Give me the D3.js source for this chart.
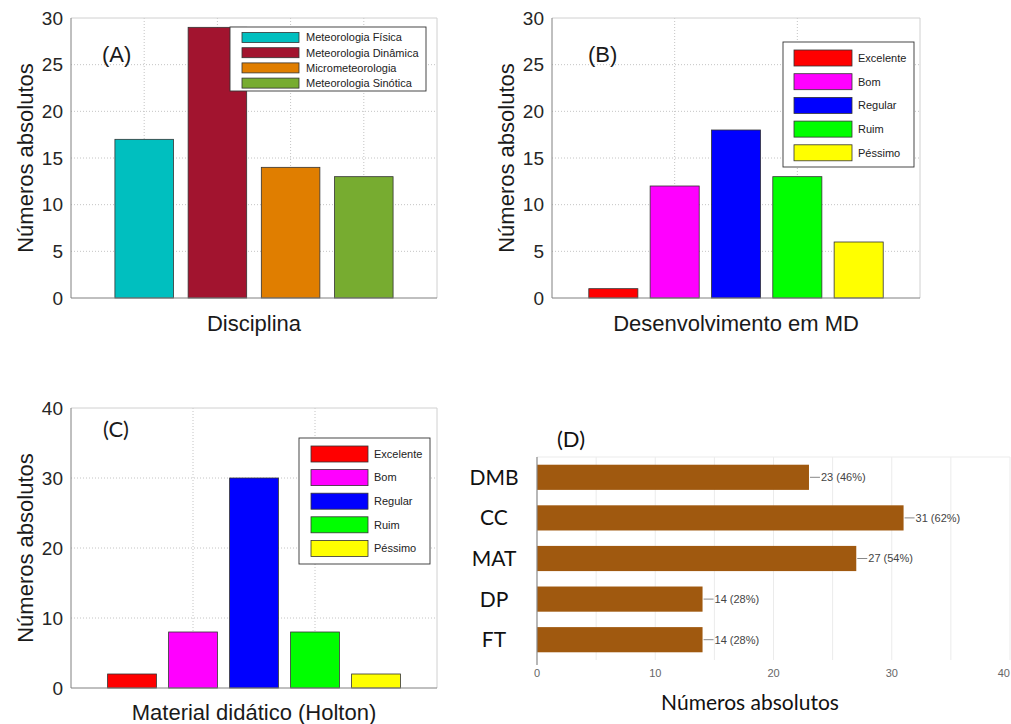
<!DOCTYPE html>
<html>
<head>
<meta charset="utf-8">
<script src="https://cdn.jsdelivr.net/npm/d3@7"></script>
<style>
  body { margin: 0; background: #fff; }
  svg { display: block; }
</style>
</head>
<body>
<div id="plot"></div>
<script>
// data
var disciplinas = ["Meteorologia Física", "Meteorologia Dinâmica", "Micrometeorologia", "Meteorologia Sinótica"];
var disciplinaValues = [17, 29, 14, 13];

var conceitos = ["Excelente", "Bom", "Regular", "Ruim", "Péssimo"];
var desenvolvimentoValues = [1, 12, 18, 13, 6];
var holtonValues = [2, 8, 30, 8, 2];

var habilidades = ["DMB", "CC", "MAT", "DP", "FT"];
var habilidadeValues = [23, 31, 27, 14, 14];
var habilidadePct = [46, 62, 54, 28, 28];

var ticks30 = [0, 5, 10, 15, 20, 25, 30];
var ticks40 = [0, 10, 20, 30, 40];
var ticksD = [0, 10, 20, 30, 40];

// colours
var disciplinaColors = ["#00bfbf", "#a2142f", "#e07e00", "#77ac30"];
var conceitoColors = ["#ff0000", "#ff00ff", "#0000ff", "#00ff00", "#ffff00"];
var brown = "#a0590f";

var W = 1011, H = 724;
var svg = d3.select("#plot").append("svg")
    .attr("width", W)
    .attr("height", H)
    .style("font-family", "'Liberation Sans', Arial, sans-serif");

// MATLAB style bar panel
function barPanel(cfg) {
    var n = cfg.values.length;
    var x = d3.scaleLinear().domain([0, n + 1]).range([cfg.left, cfg.right]);
    var y = d3.scaleLinear().domain([0, cfg.yMax]).range([cfg.bottom, cfg.top]);
    var g = svg.append("g");

    // dotted grid
    g.selectAll(".hgrid")
	.data(cfg.yTicks.filter(function(d) { return d > 0 && d < cfg.yMax; }))
	.join("line")
	.attr("x1", cfg.left).attr("x2", cfg.right)
	.attr("y1", function(d) { return y(d); }).attr("y2", function(d) { return y(d); })
	.style("stroke", "#c4c4c4").style("stroke-dasharray", "1,2");
    g.selectAll(".vgrid")
	.data(cfg.xGrid)
	.join("line")
	.attr("x1", function(d) { return x(d); }).attr("x2", function(d) { return x(d); })
	.attr("y1", cfg.top).attr("y2", cfg.bottom)
	.style("stroke", "#c4c4c4").style("stroke-dasharray", "1,2");

    // box top/right
    g.append("path")
	.attr("d", "M" + cfg.left + "," + cfg.top + "H" + cfg.right + "V" + cfg.bottom)
	.style("fill", "none").style("stroke", "#d0d0d0");

    // bars
    g.selectAll(".bar")
	.data(cfg.values)
	.join("rect")
	.attr("x", function(d, i) { return x(i + 1 - 0.4); })
	.attr("width", x(0.8) - x(0))
	.attr("y", function(d) { return y(d); })
	.attr("height", function(d) { return y(0) - y(d); })
	.style("fill", function(d, i) { return cfg.colors[i]; })
	.style("stroke", "#333")
	.style("stroke-width", 0.8);

    // axes
    var ax = g.append("g")
	.attr("transform", "translate(" + cfg.left + ",0)")
	.call(d3.axisLeft(y).tickValues(cfg.yTicks).tickSize(0).tickPadding(8));
    ax.select(".domain").remove();
    ax.selectAll("text")
	.style("font-family", "'Liberation Sans', Arial, sans-serif")
	.style("font-size", "19px").style("fill", "#262626");
    g.append("path")
	.attr("d", "M" + cfg.left + "," + cfg.top + "V" + cfg.bottom + "H" + cfg.right)
	.style("fill", "none").style("stroke", "#808080");

    // labels
    g.append("text")
	.attr("transform", "translate(" + cfg.yLabelX + "," + ((cfg.top + cfg.bottom) / 2) + ") rotate(-90)")
	.attr("text-anchor", "middle")
	.style("font-size", "22px").style("fill", "#1a1a1a")
	.text("Números absolutos");
    g.append("text")
	.attr("x", (cfg.left + cfg.right) / 2).attr("y", cfg.xLabelY)
	.attr("text-anchor", "middle")
	.style("font-size", "22px").style("fill", "#1a1a1a")
	.text(cfg.xLabel);
    g.append("text")
	.attr("x", cfg.tagX).attr("y", cfg.tagY)
	.style("font-size", "22px").style("fill", "#1a1a1a")
	.style("font-family", cfg.tagFont)
	.text(cfg.tag);

    // legend
    var L = cfg.legend;
    var lg = g.append("g").attr("transform", "translate(" + L.x + "," + L.y + ")");
    lg.append("rect")
	.attr("width", L.w).attr("height", L.h)
	.style("fill", "#fff").style("stroke", "#333").style("stroke-width", 0.9);
    var row = lg.selectAll(".row")
	.data(cfg.names)
	.join("g")
	.attr("transform", function(d, i) { return "translate(0," + (L.first + i * L.step) + ")"; });
    row.append("rect")
	.attr("x", L.sx).attr("y", -L.sh / 2)
	.attr("width", L.sw).attr("height", L.sh)
	.style("fill", function(d, i) { return cfg.colors[i]; })
	.style("stroke", "#333").style("stroke-width", 0.8);
    row.append("text")
	.attr("x", L.tx).attr("dy", "0.35em")
	.style("font-size", "11px").style("fill", "#222")
	.text(function(d) { return d; });
}

// (A)
barPanel({
    values: disciplinaValues, names: disciplinas, colors: disciplinaColors,
    left: 71, right: 437, top: 18, bottom: 298, yMax: 30, yTicks: ticks30,
    xGrid: [1, 2, 3, 4],
    yLabelX: 33, xLabel: "Disciplina", xLabelY: 331,
    tag: "(A)", tagX: 102, tagY: 62, tagFont: "'Liberation Sans', Arial, sans-serif",
    legend: { x: 230, y: 27, w: 196, h: 64, first: 10.5, step: 15.2, sx: 12, sw: 57, sh: 10, tx: 76 }
});

// (B)
barPanel({
    values: desenvolvimentoValues, names: conceitos, colors: conceitoColors,
    left: 552, right: 920, top: 18, bottom: 298, yMax: 30, yTicks: ticks30,
    xGrid: [2, 4],
    yLabelX: 514, xLabel: "Desenvolvimento em MD", xLabelY: 331,
    tag: "(B)", tagX: 588, tagY: 62, tagFont: "'Liberation Sans', Arial, sans-serif",
    legend: { x: 783, y: 42, w: 131, h: 125, first: 16, step: 23.7, sx: 11, sw: 58, sh: 16, tx: 75 }
});

// (C)
barPanel({
    values: holtonValues, names: conceitos, colors: conceitoColors,
    left: 71, right: 437, top: 408, bottom: 688, yMax: 40, yTicks: ticks40,
    xGrid: [2, 4],
    yLabelX: 33, xLabel: "Material didático (Holton)", xLabelY: 720,
    tag: "(C)", tagX: 103, tagY: 437, tagFont: "Lato, 'Open Sans', sans-serif",
    legend: { x: 299, y: 438, w: 131, h: 126, first: 16, step: 23.6, sx: 12, sw: 57, sh: 16, tx: 75 }
});

// (D) horizontal bars
(function() {
    var left = 537, right = 1010, top = 457, bottom = 660;
    var x = d3.scaleLinear().domain([0, 40]).range([left, right]);
    var y = d3.scaleBand().domain(habilidades).range([top, bottom]).paddingInner(0.38).paddingOuter(0.19);
    var g = svg.append("g");

    g.selectAll(".vgrid")
	.data(d3.range(5, 41, 5))
	.join("line")
	.attr("x1", function(d) { return x(d); }).attr("x2", function(d) { return x(d); })
	.attr("y1", top).attr("y2", bottom)
	.style("stroke", "#ebebeb");
    g.append("line")
	.attr("x1", left).attr("x2", right).attr("y1", top).attr("y2", top)
	.style("stroke", "#ebebeb");

    g.selectAll(".bar")
	.data(habilidadeValues)
	.join("rect")
	.attr("x", left)
	.attr("y", function(d, i) { return y(habilidades[i]); })
	.attr("width", function(d) { return x(d) - x(0); })
	.attr("height", y.bandwidth())
	.style("fill", brown);

    // value labels with leader
    var lab = g.selectAll(".val")
	.data(habilidadeValues)
	.join("g")
	.attr("transform", function(d, i) {
	    return "translate(" + x(d) + "," + (y(habilidades[i]) + y.bandwidth() / 2) + ")";
	});
    lab.append("line")
	.attr("x1", 1).attr("x2", 11)
	.style("stroke", "#888");
    lab.append("text")
	.attr("x", 12).attr("dy", "0.35em")
	.style("font-size", "11px").style("fill", "#444")
	.text(function(d, i) { return d + " (" + habilidadePct[i] + "%)"; });

    g.append("line")
	.attr("x1", left).attr("x2", left).attr("y1", top).attr("y2", bottom + 5)
	.style("stroke", "#888").style("stroke-width", 1.2);

    // last tick sits on the page edge, keep it inside
    g.selectAll(".xtick")
	.data(ticksD)
	.join("text")
	.attr("x", function(d) { return Math.min(x(d), W - 1); })
	.attr("y", 677)
	.attr("text-anchor", function(d, i) { return i === ticksD.length - 1 ? "end" : "middle"; })
	.style("font-size", "11px").style("fill", "#666")
	.text(function(d) { return d; });

    g.selectAll(".cat")
	.data(habilidades)
	.join("text")
	.attr("x", 494)
	.attr("y", function(d) { return y(d) + y.bandwidth() / 2; })
	.attr("dy", "0.36em")
	.attr("text-anchor", "middle")
	.style("font-family", "Lato, 'Open Sans', sans-serif")
	.style("font-size", "21px").style("fill", "#111")
	.text(function(d) { return d; });

    g.append("text")
	.attr("x", 557).attr("y", 447)
	.style("font-family", "Lato, 'Open Sans', sans-serif")
	.style("font-size", "22px").style("fill", "#111")
	.text("(D)");

    g.append("text")
	.attr("x", 750).attr("y", 710)
	.attr("text-anchor", "middle")
	.style("font-family", "Lato, 'Open Sans', sans-serif")
	.style("font-size", "21px").style("fill", "#111")
	.text("Números absolutos");
})();
</script>
</body>
</html>
